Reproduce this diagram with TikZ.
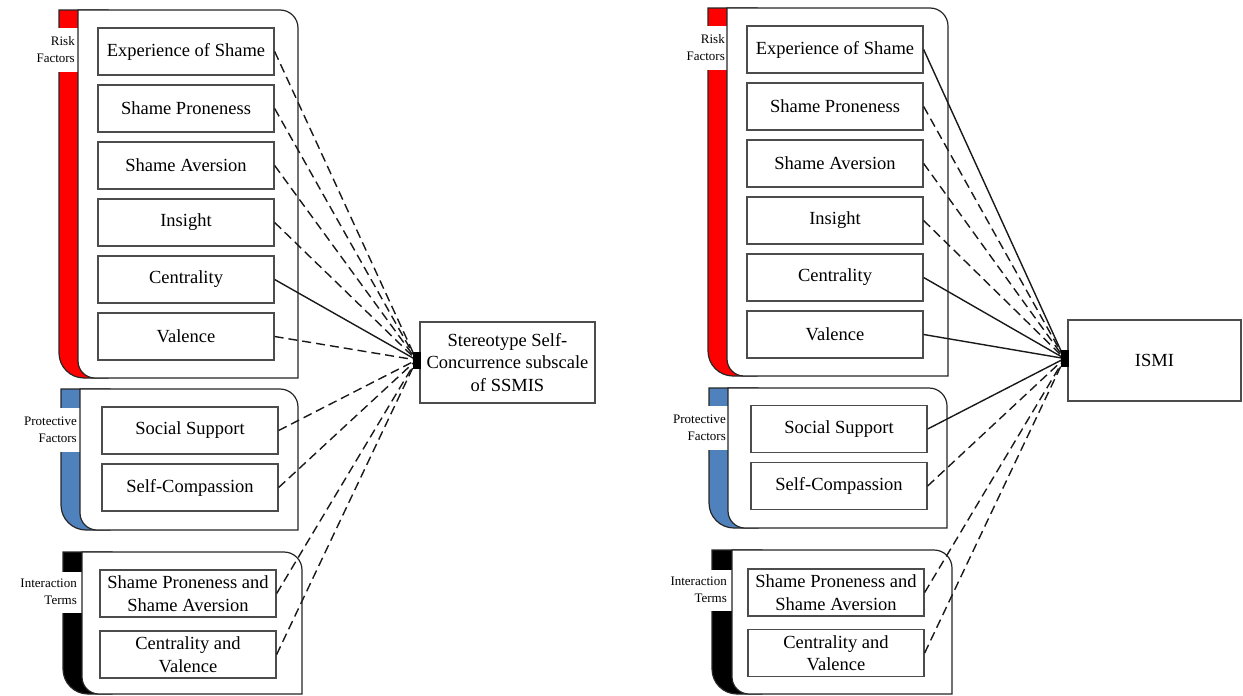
\documentclass[tikz,border=0pt]{standalone}
\usepackage{fontspec}
\setmainfont{Liberation Serif}
\newcommand{\mainf}{\fontsize{18.5}{22.5}\selectfont}
\newcommand{\labf}{\fontsize{13}{17}\selectfont}
\tikzset{
  item/.style={draw=black!70, line width=1.3pt, fill=white, minimum width=176pt, minimum height=47pt, inner sep=0pt, align=center, font=\mainf},
  target/.style={draw=black!70, line width=1.3pt, fill=white, minimum height=81pt, inner sep=0pt, align=center, font=\mainf},
  knob/.style={fill=black, draw=black, minimum width=7pt, minimum height=16pt, inner sep=0pt},
  lab/.style={align=right, anchor=east, font=\labf, inner sep=0pt},
  conn/.style={line width=1.4pt, draw=black!90},
  dsh/.style={conn, dash pattern=on 9pt off 5pt},
  grp/.style={draw=black!85, line width=1.2pt},
}
\newcommand{\groupbox}[8]{%
  \draw[grp, fill=#1] (#2,-#5) -- (#3+30,-#5) -- (#3+30,-#6) -- (#2+25,-#6) arc[start angle=270,end angle=180,radius=25] -- cycle;
  \fill[white] (#2-1.5,-#7) rectangle (#3,-#8);
  \draw[grp, fill=white] (#3,-#5) -- (#4-18,-#5) arc[start angle=90,end angle=0,radius=18] -- (#4,-#6) -- (#3+17,-#6) arc[start angle=270,end angle=180,radius=17] -- cycle;
}
\definecolor{riskred}{RGB}{255,0,0}
\definecolor{protblue}{RGB}{79,129,189}
\begin{document}
\begin{tikzpicture}[x=1pt,y=1pt]
\useasboundingbox (0,0) rectangle (1243,-696);
% ---------------- LEFT PANEL ----------------
\groupbox{riskred}{59}{78}{298}{10}{378}{28}{72}
\groupbox{protblue}{61}{80}{298}{389}{530}{408}{452}
\groupbox{black}{63}{82}{302}{552}{694}{572}{613}
\node[lab] (lrl) at (75,-50) {Risk\\Factors};
\node[lab] (lpl) at (77,-430) {Protective\\Factors};
\node[lab] (lil) at (77,-592) {Interaction\\Terms};

\node[item] (L1) at (186,-51.5) {Experience of Shame};
\node[item] (L2) at (186,-108.5) {Shame Proneness};
\node[item] (L3) at (186,-165.5) {Shame Aversion};
\node[item] (L4) at (186,-222.5) {Insight};
\node[item] (L5) at (186,-279.5) {Centrality};
\node[item] (L6) at (186,-336.5) {Valence};
\node[item] (L7) at (190,-430.5) {Social Support};
\node[item] (L8) at (190,-487.5) {Self-Compassion};
\node[item] (L9) at (188,-593.5) {Shame Proneness and\\Shame Aversion};
\node[item] (L10) at (188,-654.5) {Centrality and\\Valence};

\node[target, minimum width=175pt] (LT) at (507.5,-362.5) {Stereotype Self-\\Concurrence subscale\\of SSMIS};
\coordinate (LK) at (416.5,-360);

\draw[dsh] (L1.east) -- (LK);
\draw[dsh] (L2.east) -- (LK);
\draw[dsh] (L3.east) -- (LK);
\draw[dsh] (L4.east) -- (LK);
\draw[conn] (L5.east) -- (LK);
\draw[dsh] (L6.east) -- (LK);
\draw[dsh] (L7.east) -- (LK);
\draw[dsh] (L8.east) -- (LK);
\draw[dsh] (L9.east) -- (LK);
\draw[dsh] (L10.east) -- (LK);
\node[knob] (LKN) at (LK) {};

% ---------------- RIGHT PANEL ----------------
\groupbox{riskred}{708}{727}{948}{8}{376}{26}{70}
\groupbox{protblue}{709}{728}{947}{388}{528}{406}{450}
\groupbox{black}{712}{732}{952}{550}{694}{570}{611}
\node[lab] (rrl) at (725,-48) {Risk\\Factors};
\node[lab] (rpl) at (726,-428) {Protective\\Factors};
\node[lab] (ril) at (727,-590) {Interaction\\Terms};

\node[item] (R1) at (835,-49.5) {Experience of Shame};
\node[item] (R2) at (835,-106.5) {Shame Proneness};
\node[item] (R3) at (835,-163.5) {Shame Aversion};
\node[item] (R4) at (835,-220.5) {Insight};
\node[item] (R5) at (835,-277.5) {Centrality};
\node[item] (R6) at (835,-334.5) {Valence};
\node[item] (R7) at (839,-429) {Social Support};
\node[item] (R8) at (839,-486) {Self-Compassion};
\node[item] (R9) at (836,-592.5) {Shame Proneness and\\Shame Aversion};
\node[item] (R10) at (836,-653) {Centrality and\\Valence};

\node[target, minimum width=173pt] (RT) at (1154.5,-360.5) {ISMI};
\coordinate (RK) at (1064.5,-358.5);

\draw[conn] (R1.east) -- (RK);
\draw[dsh] (R2.east) -- (RK);
\draw[dsh] (R3.east) -- (RK);
\draw[dsh] (R4.east) -- (RK);
\draw[conn] (R5.east) -- (RK);
\draw[conn] (R6.east) -- (RK);
\draw[conn] (R7.east) -- (RK);
\draw[dsh] (R8.east) -- (RK);
\draw[dsh] (R9.east) -- (RK);
\draw[dsh] (R10.east) -- (RK);
\node[knob] (RKN) at (RK) {};
\end{tikzpicture}
\end{document}
